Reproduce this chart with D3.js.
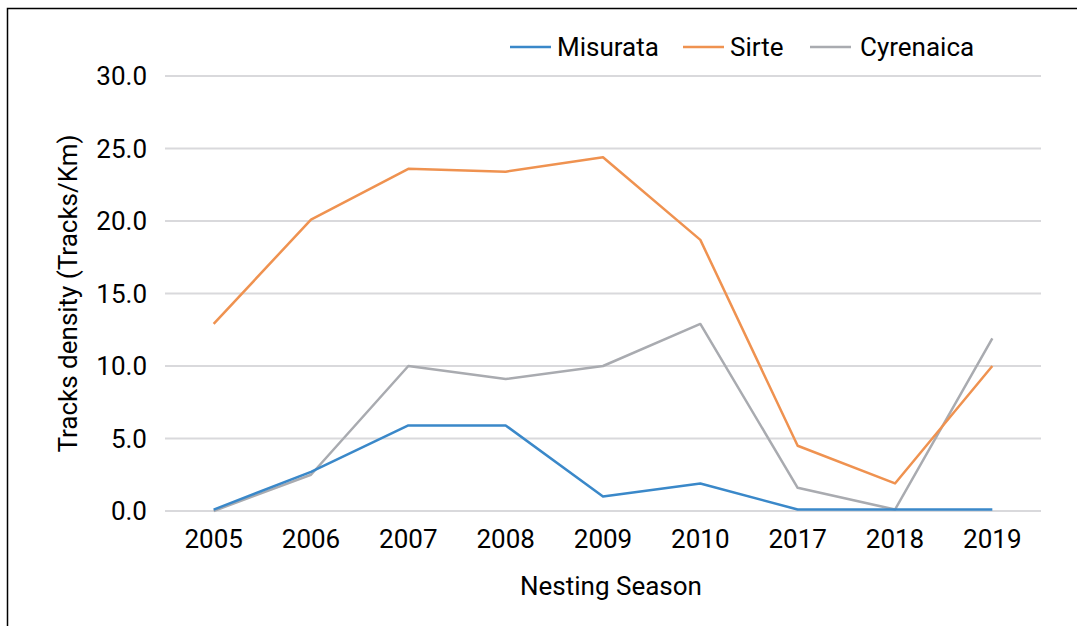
<!DOCTYPE html>
<html>
<head>
<meta charset="utf-8">
<script src="https://cdn.jsdelivr.net/npm/d3@7"></script>
<style>
  body { margin: 0; background: #fff; }
  text { font-family: Roboto, "Noto Sans", sans-serif; fill: #000; }
</style>
</head>
<body>
<svg width="1077" height="626"></svg>
<script>
// Data
var seasons = ["2005", "2006", "2007", "2008", "2009", "2010", "2017", "2018", "2019"];
var misurata = [0.1, 2.7, 5.9, 5.9, 1.0, 1.9, 0.1, 0.1, 0.1];
var sirte = [12.9, 20.1, 23.6, 23.4, 24.4, 18.7, 4.5, 1.9, 10.0];
var cyrenaica = [0.0, 2.5, 10.0, 9.1, 10.0, 12.9, 1.6, 0.1, 11.9];
var yTicks = [0, 5, 10, 15, 20, 25, 30];
var seriesNames = ["Misurata", "Sirte", "Cyrenaica"];
var seriesColors = ["#3a88c9", "#ef9250", "#a9abb0"];

var svg = d3.select("svg"),
  width = +svg.attr("width"),
  height = +svg.attr("height");

// Outer border
svg.append("rect")
  .attr("x", 7.5).attr("y", 8.5)
  .attr("width", width + 10).attr("height", height + 10)
  .attr("fill", "none").attr("stroke", "#000").attr("stroke-width", 1.5);

var plotLeft = 165, plotRight = 1041, plotTop = 76, plotBottom = 511;
var fontSize = "26px";

var x = d3.scalePoint()
  .domain(seasons)
  .range([plotLeft, plotRight])
  .padding(0.5);

var y = d3.scaleLinear()
  .domain([0, 30])
  .range([plotBottom, plotTop]);

// Gridlines
svg.append("g")
  .selectAll("line")
  .data(yTicks)
  .enter().append("line")
    .attr("x1", plotLeft).attr("x2", plotRight)
    .attr("y1", function(d) { return y(d); })
    .attr("y2", function(d) { return y(d); })
    .attr("stroke", "#d9d9dc")
    .attr("stroke-width", 2);

// Y tick labels
svg.append("g")
  .selectAll("text")
  .data(yTicks)
  .enter().append("text")
    .attr("x", 147)
    .attr("y", function(d) { return y(d); })
    .attr("dy", "0.35em")
    .attr("text-anchor", "end")
    .style("font-size", fontSize)
    .text(function(d) { return d3.format(".1f")(d); });

// X tick labels
svg.append("g")
  .selectAll("text")
  .data(seasons)
  .enter().append("text")
    .attr("x", function(d) { return x(d); })
    .attr("y", 548)
    .attr("text-anchor", "middle")
    .style("font-size", fontSize)
    .text(function(d) { return d; });

// Axis titles
svg.append("text")
  .attr("x", 611).attr("y", 595)
  .attr("text-anchor", "middle")
  .style("font-size", fontSize)
  .text("Nesting Season");

svg.append("text")
  .attr("transform", "translate(77," + ((plotTop + plotBottom) / 2) + ") rotate(-90)")
  .attr("text-anchor", "middle")
  .style("font-size", fontSize)
  .text("Tracks density (Tracks/Km)");

// Lines
var allSeries = [misurata, sirte, cyrenaica];
var line = d3.line()
  .x(function(d, i) { return x(seasons[i]); })
  .y(function(d) { return y(d); });

// draw gray first so blue/orange sit on top
[2, 1, 0].forEach(function(k) {
  svg.append("path")
    .datum(allSeries[k])
    .attr("d", line)
    .attr("fill", "none")
    .attr("stroke", seriesColors[k])
    .attr("stroke-width", 2.5)
    .attr("stroke-linejoin", "round");
});

// Legend
var legendX = [510, 683, 810];
var legend = svg.append("g");
seriesNames.forEach(function(name, i) {
  legend.append("line")
    .attr("x1", legendX[i]).attr("x2", legendX[i] + 41)
    .attr("y1", 47).attr("y2", 47)
    .attr("stroke", seriesColors[i])
    .attr("stroke-width", 2.5);
  legend.append("text")
    .attr("x", legendX[i] + 47 + (i === 2 ? 3 : 0))
    .attr("y", 47)
    .attr("dy", "0.35em")
    .style("font-size", fontSize)
    .text(name);
});
</script>
</body>
</html>
